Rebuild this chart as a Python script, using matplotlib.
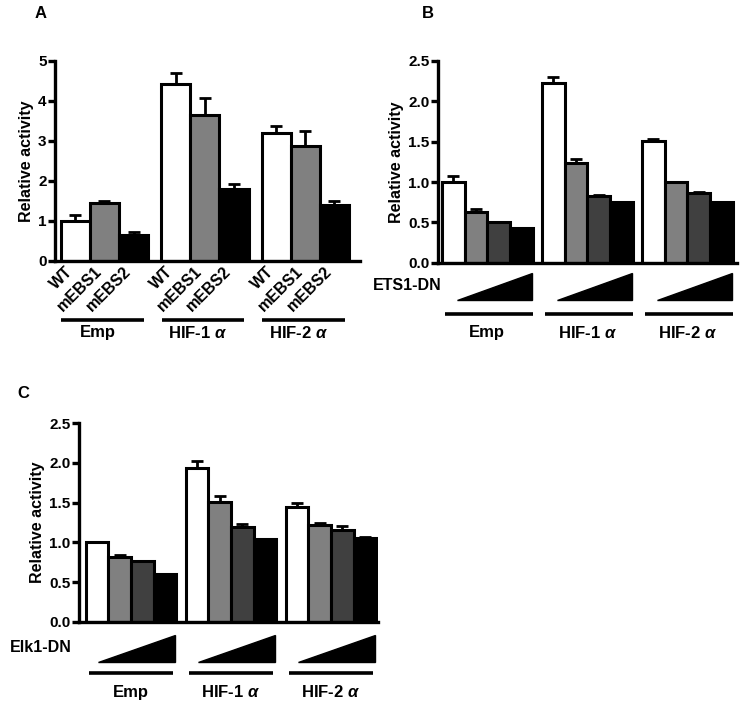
import numpy as np
import matplotlib.pyplot as plt
from matplotlib.transforms import blended_transform_factory

plt.rcParams['font.family'] = ['Liberation Sans', 'DejaVu Sans']
plt.rcParams['font.weight'] = 'bold'
plt.rcParams['mathtext.fontset'] = 'custom'
plt.rcParams['mathtext.it'] = 'Liberation Sans:italic:bold'

groups = ['Emp', 'HIF-1 $\\it{\\alpha}$', 'HIF-2 $\\it{\\alpha}$']

# panel A: reporter mutants
a_labels = ['WT', 'mEBS1', 'mEBS2']
a_vals = np.array([[1.00, 1.45, 0.66],
                   [4.43, 3.65, 1.79],
                   [3.19, 2.88, 1.40]])
a_err = np.array([[0.15, 0.05, 0.06],
                  [0.26, 0.42, 0.13],
                  [0.19, 0.37, 0.10]])

# panel B: ETS1-DN dose
b_vals = np.array([[1.00, 0.63, 0.50, 0.43],
                   [2.23, 1.24, 0.83, 0.75],
                   [1.51, 1.00, 0.87, 0.75]])
b_err = np.array([[0.08, 0.03, 0.01, 0.005],
                  [0.07, 0.05, 0.005, 0.005],
                  [0.02, 0.005, 0.005, 0.005]])

# panel C: Elk1-DN dose
c_vals = np.array([[1.00, 0.82, 0.76, 0.60],
                   [1.94, 1.51, 1.19, 1.04],
                   [1.45, 1.22, 1.16, 1.06]])
c_err = np.array([[0.01, 0.02, 0.005, 0.005],
                  [0.08, 0.08, 0.04, 0.005],
                  [0.04, 0.02, 0.05, 0.005]])

W, H = 741, 704
fig = plt.figure(figsize=(W / 100, H / 100), dpi=100)


def fy(py):
    # pixel row from top -> figure fraction
    return 1 - py / H


def style_axis(ax, ymax, step, fmt):
    for s in ['top', 'right']:
        ax.spines[s].set_visible(False)
    for s in ['left', 'bottom']:
        ax.spines[s].set_linewidth(2.4)
    ax.set_ylim(0, ymax)
    ticks = np.arange(0, ymax + 1e-9, step)
    ax.set_yticks(ticks)
    ax.set_yticklabels([fmt % t for t in ticks], fontsize=11, fontweight='bold')
    ax.tick_params(axis='y', width=2.4, length=5, pad=1)
    ax.set_ylabel('Relative activity', fontsize=11.5, fontweight='bold', labelpad=3)


def draw_bars(ax, vals, err, colors, width):
    n = vals.shape[1]
    x0 = np.arange(vals.shape[0])
    offs = (np.arange(n) - (n - 1) / 2) * width
    for j in range(n):
        ax.bar(x0 + offs[j], vals[:, j], width, color=colors[j],
               edgecolor='black', linewidth=2.2, zorder=2)
        ax.errorbar(x0 + offs[j], vals[:, j], yerr=[np.zeros(len(x0)), err[:, j]],
                    fmt='none', ecolor='black', elinewidth=2, capsize=4.5,
                    capthick=2, zorder=1)
    return x0, offs


def group_lines(ax, x0, lo, hi, yline, ylab, dx=0.0):
    tr = blended_transform_factory(ax.transData, fig.transFigure)
    for i, g in enumerate(groups):
        ax.plot([x0[i] + lo, x0[i] + hi], [fy(yline), fy(yline)], color='black',
                lw=2.6, transform=tr, clip_on=False, solid_capstyle='butt')
        ax.text(x0[i] + dx, fy(ylab), g, transform=tr, ha='center', va='center',
                fontsize=12, fontweight='bold')


def wedges(ax, x0, lo, hi, ytop, ybot, label, xlab):
    tr = blended_transform_factory(ax.transData, fig.transFigure)
    for i in range(len(x0)):
        pts = [(x0[i] + lo, fy(ybot)), (x0[i] + hi, fy(ybot)), (x0[i] + hi, fy(ytop))]
        ax.add_patch(plt.Polygon(pts, closed=True, color='black', transform=tr,
                                 clip_on=False))
    fig.text(xlab / W, fy((ytop + ybot) / 2 - 1), label, ha='left', va='center',
             fontsize=11.5, fontweight='bold')


# ---- A ----
axA = fig.add_axes([55 / W, fy(261), 305 / W, 200 / H])
xA, oA = draw_bars(axA, a_vals, a_err, ['white', '#808080', 'black'], 0.289)
axA.set_xlim(-0.4925, 2.543)
style_axis(axA, 5, 1, '%d')
xt = np.concatenate([xA[i] + oA for i in range(3)])
axA.set_xticks(xt)
axA.set_xticklabels(a_labels * 3, rotation=45, ha='right', fontsize=11.5,
                    fontweight='bold')
axA.tick_params(axis='x', length=0, pad=2)
group_lines(axA, xA, -0.43, 0.39, 320, 333, dx=-0.07)
fig.text(35 / W, fy(13), 'A', fontsize=12, fontweight='bold', va='center')

# ---- B ----
axB = fig.add_axes([438 / W, fy(262.7), 299 / W, 201.7 / H])
xB, oB = draw_bars(axB, b_vals, b_err, ['white', '#808080', '#404040', 'black'], 0.227)
axB.set_xlim(-0.492, 2.498)
style_axis(axB, 2.5, 0.5, '%.1f')
axB.set_xticks([])
wedges(axB, xB, -0.30, 0.45, 273, 300, 'ETS1-DN', 373)
group_lines(axB, xB, -0.42, 0.455, 314, 333)
fig.text(422 / W, fy(13), 'B', fontsize=12, fontweight='bold', va='center')

# ---- C ----
axC = fig.add_axes([79 / W, fy(621.7), 299 / W, 198.4 / H])
xC, oC = draw_bars(axC, c_vals, c_err, ['white', '#808080', '#404040', 'black'], 0.227)
axC.set_xlim(-0.52, 2.47)
style_axis(axC, 2.5, 0.5, '%.1f')
axC.set_xticks([])
wedges(axC, xC, -0.33, 0.44, 635, 662, 'Elk1-DN', 10)
group_lines(axC, xC, -0.42, 0.415, 673, 692)
fig.text(17 / W, fy(393), 'C', fontsize=12, fontweight='bold', va='center')

fig.savefig('out.png', dpi=100)
